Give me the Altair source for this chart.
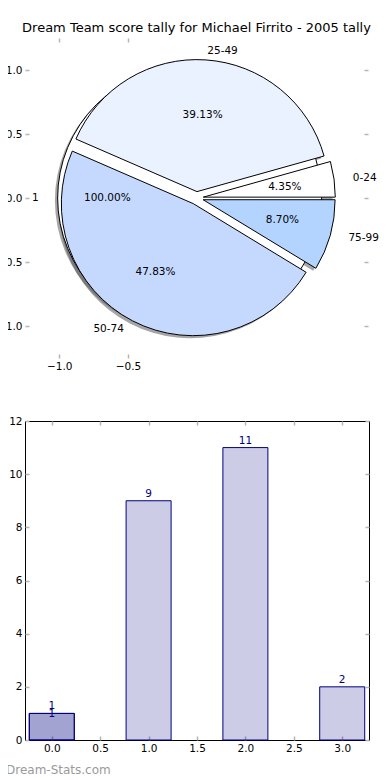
import math
import altair as alt
import pandas as pd

# ---------------- data ----------------
categories = ["0-24", "25-49", "50-74", "75-99"]
counts = [1, 9, 11, 2]
slice_colors = ["#FFFFFF", "#EAF1FF", "#C5D9FF", "#B3D4FF"]

single_labels = ["1"]
single_counts = [1]
single_colors = ["#FFFFFF"]

bar_series = ["single", "tally", "tally", "tally", "tally"]
bar_positions = [0, 0, 1, 2, 3]
bar_values = [1, 1, 9, 11, 2]

pie_x_ticks = [-1.0, -0.5]
pie_y_ticks = [-1.0, -0.5, 0.0, 0.5, 1.0]
bar_x_ticks = [0.0, 0.5, 1.0, 1.5, 2.0, 2.5, 3.0]
bar_y_ticks = [0, 2, 4, 6, 8, 10, 12]

title_text = "Dream Team score tally for Michael Firrito - 2005 tally"
watermark = "Dream-Stats.com"

# ---------------- pie geometry (matplotlib-style) ----------------
EXPLODE = 0.05
LABEL_DIST = 1.1
PCT_DIST = 0.6
SHADOW = 0.02


def pie_rows(group, labels, values, colors):
    total = sum(values)
    rows = []
    cum = 0.0
    for lab, v, col in zip(labels, values, colors):
        a1 = 2 * math.pi * cum / total
        cum += v
        a2 = 2 * math.pi * cum / total
        mid = (a1 + a2) / 2
        c, s = math.cos(mid), math.sin(mid)
        cx, cy = EXPLODE * c, EXPLODE * s
        rows.append(dict(
            group=group, label=lab, color=col,
            t_start=2.5 * math.pi - a2, t_end=2.5 * math.pi - a1,
            cx=cx, cy=cy, sx=cx - SHADOW, sy=cy - SHADOW,
            lx=cx + LABEL_DIST * c, ly=cy + LABEL_DIST * s,
            px=cx + PCT_DIST * c, py=cy + PCT_DIST * s,
            pct=f"{100 * v / total:.2f}%",
            side="left" if c > 0 else "right",
        ))
    return rows


pie_df = pd.DataFrame(
    pie_rows("single", single_labels, single_counts, single_colors)
    + pie_rows("tally", categories, counts, slice_colors)
)

bar_df = pd.DataFrame({"series": bar_series, "pos": bar_positions, "value": bar_values})

# ---------------- styles ----------------
FONT = "DejaVu Sans"
R = 132
TICK_COLOR = "#b5b5b5"
TICK = dict(tickSize=4, offset=-4, tickColor=TICK_COLOR, tickWidth=1.5,
            domain=False, grid=False, title=None)
LBL = dict(labelFontSize=10.5, labelColor="black", labelFont=FONT)

XS = alt.Scale(domain=[-1.25, 1.25], nice=False, zero=False)
YS = alt.Scale(domain=[-1.25, 1.25], nice=False, zero=False)

p_left = alt.Axis(orient="left", values=pie_y_ticks, format=".1f", labelPadding=3, **LBL, **TICK)
p_bottom = alt.Axis(orient="bottom", values=pie_x_ticks, format=".1f", labelPadding=3, **LBL, **TICK)
p_right = alt.Axis(orient="right", values=pie_y_ticks, labels=False, **TICK)
p_top = alt.Axis(orient="top", values=pie_x_ticks, labels=False, **TICK)

base = alt.Chart(pie_df)
theta = alt.Theta("t_start:Q", scale=None)
theta2 = alt.Theta2("t_end:Q")

shadows = base.mark_arc(radius=R, fill="#4d4d4d", fillOpacity=0.5, strokeWidth=0).encode(
    x=alt.X("sx:Q", scale=XS, axis=p_bottom),
    y=alt.Y("sy:Q", scale=YS, axis=p_left),
    theta=theta, theta2=theta2,
)

wedges = base.mark_arc(radius=R, stroke="black", strokeWidth=1).encode(
    x=alt.X("cx:Q", scale=XS, axis=None),
    y=alt.Y("cy:Q", scale=YS, axis=None),
    theta=theta, theta2=theta2,
    fill=alt.Fill("color:N", scale=None),
)

lab_left = base.transform_filter("datum.side == 'left'").mark_text(
    align="left", baseline="middle", fontSize=10.5, font=FONT, color="black"
).encode(
    x=alt.X("lx:Q", scale=XS, axis=None),
    y=alt.Y("ly:Q", scale=YS, axis=None),
    text="label:N",
)

lab_right = base.transform_filter("datum.side == 'right'").mark_text(
    align="right", baseline="middle", fontSize=10.5, font=FONT, color="black"
).encode(
    x=alt.X("lx:Q", scale=XS, axis=None),
    y=alt.Y("ly:Q", scale=YS, axis=None),
    text="label:N",
)

pct = base.mark_text(
    align="center", baseline="middle", fontSize=10.5, font=FONT, color="black"
).encode(
    x=alt.X("px:Q", scale=XS, axis=p_top),
    y=alt.Y("py:Q", scale=YS, axis=p_right),
    text="pct:N",
)

top = alt.layer(shadows, wedges, lab_left, lab_right, pct).resolve_axis(
    x="independent", y="independent"
).properties(
    width=343, height=320,
    title=alt.TitleParams(title_text, fontSize=13, fontWeight="normal", font=FONT,
                          anchor="middle", frame="group", offset=2, color="black"),
)

# ---------------- bar panel ----------------
BX = alt.Scale(domain=[-0.225, 3.225], nice=False, zero=False)
BY = alt.Scale(domain=[0, 12], nice=False)

b_left = alt.Axis(orient="left", values=bar_y_ticks, format="d", labelPadding=3, **LBL, **TICK)
b_bottom = alt.Axis(orient="bottom", values=bar_x_ticks, format=".1f", labelPadding=3, **LBL, **TICK)
b_right = alt.Axis(orient="right", values=bar_y_ticks, labels=False, **TICK)
b_top = alt.Axis(orient="top", values=bar_x_ticks, labels=False, **TICK)

NAVY = "#000080"
bbase = alt.Chart(bar_df)
bars = bbase.mark_bar(size=45, fill=NAVY, fillOpacity=0.2, stroke=NAVY, strokeWidth=1).encode(
    x=alt.X("pos:Q", scale=BX, axis=b_bottom),
    y=alt.Y("value:Q", scale=BY, axis=b_left, stack=None),
)

vals_tally = bbase.transform_filter("datum.series == 'tally'").mark_text(
    baseline="alphabetic", dy=-4, fontSize=10.5, font=FONT, color=NAVY
).encode(
    x=alt.X("pos:Q", scale=BX, axis=b_top),
    y=alt.Y("value:Q", scale=BY, axis=b_right),
    text=alt.Text("value:Q", format="d"),
)

vals_single = bbase.transform_filter("datum.series == 'single'").mark_text(
    baseline="alphabetic", dy=4, fontSize=10.5, font=FONT, color=NAVY
).encode(
    x=alt.X("pos:Q", scale=BX, axis=None),
    y=alt.Y("value:Q", scale=BY, axis=None),
    text=alt.Text("value:Q", format="d"),
)

bottom = alt.layer(bars, vals_tally, vals_single).resolve_axis(
    x="independent", y="independent"
).properties(
    width=344, height=319,
    view=alt.ViewBackground(stroke="black", strokeWidth=1),
    title=alt.TitleParams(watermark, orient="bottom", anchor="start", frame="group",
                          dx=-19, fontSize=12, fontWeight="normal", font=FONT,
                          color="#9a9a9a", offset=11),
)

chart = alt.vconcat(top, bottom, spacing=63, bounds="flush").properties(
    padding={"left": -12, "top": 13, "right": 0, "bottom": 0},
).configure(font=FONT).configure_view(stroke="transparent")

chart.save("out.html", embed_options={"renderer": "svg", "actions": False})
